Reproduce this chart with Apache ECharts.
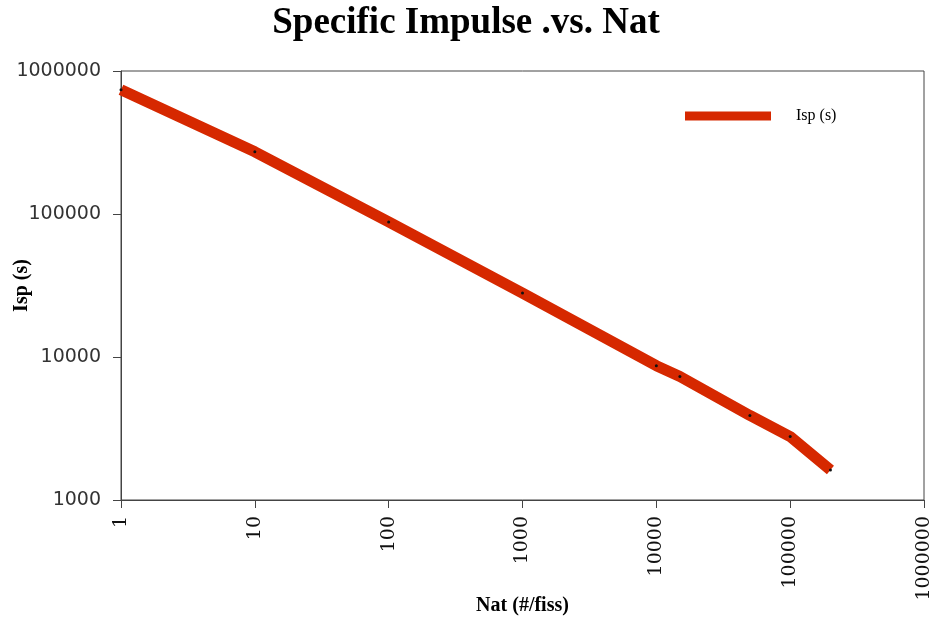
<!DOCTYPE html>
<html><head><meta charset="utf-8">
<script src="https://cdn.jsdelivr.net/npm/echarts@6/dist/echarts.min.js"></script>
<style>html,body{margin:0;padding:0;background:#fff}#c{width:932px;height:621px}</style>
</head><body><div id="c"></div>
<script>
const natValues = [1, 10, 100, 1000, 10000, 15000, 50000, 100000, 200000];
const ispValues = [740000, 272000, 88000, 28000, 8700, 7300, 3900, 2780, 1620];
const seriesName = 'Isp (s)';

const chart = echarts.init(document.getElementById('c'));
chart.setOption({
  animation: false,
  backgroundColor: '#fff',
  title: {
    text: 'Specific Impulse .vs. Nat', left: 'center', top: 0,
    textStyle: {fontFamily: 'Liberation Serif', fontWeight: 'bold', fontSize: 37, color: '#000'}
  },
  grid: {left: 121, right: 8, top: 71, bottom: 121, show: true, borderColor: '#444', borderWidth: 1,
         containLabel: false, outerBoundsMode: 'none'},
  legend: {
    left: 680, top: 103, itemWidth: 86, itemHeight: 9, itemGap: 10,
    icon: 'rect',
    data: [{name: seriesName, icon: 'rect', itemStyle: {color: '#d62800'}}],
    textStyle: {fontFamily: 'Liberation Serif', fontSize: 16, color: '#000', padding: [0,0,0,20]}
  },
  xAxis: {
    type: 'log', logBase: 10, min: 1, max: 1000000,
    name: 'Nat (#/fiss)', nameLocation: 'middle', nameGap: 96, nameMoveOverlap: false,
    nameTextStyle: {fontFamily: 'Liberation Serif', fontWeight: 'bold', fontSize: 20, color: '#000'},
    axisLine: {lineStyle: {color: '#444'}},
    axisTick: {show: true, inside: false, length: 8, lineStyle: {color: '#444'}},
    axisLabel: {rotate: 90, margin: 16, fontFamily: 'DejaVu Serif', fontSize: 19, color: '#111',
                formatter: v => String(Math.round(v))},
    splitLine: {show: false}, minorTick: {show: false}
  },
  yAxis: {
    type: 'log', logBase: 10, min: 1000, max: 1000000,
    name: 'Isp (s)', nameLocation: 'middle', nameGap: 89, nameRotate: 90, nameMoveOverlap: false,
    nameTextStyle: {fontFamily: 'Liberation Serif', fontWeight: 'bold', fontSize: 20, color: '#000'},
    axisLine: {show: true, lineStyle: {color: '#444'}},
    axisTick: {show: true, inside: false, length: 8, lineStyle: {color: '#444'}},
    axisLabel: {margin: 20, fontFamily: 'DejaVu Sans', fontSize: 19, color: '#333',
                formatter: v => String(Math.round(v))},
    splitLine: {show: false}
  },
  series: [{
    name: seriesName, type: 'line',
    data: natValues.map((x, i) => [x, ispValues[i]]),
    lineStyle: {color: '#d62800', width: 11},
    itemStyle: {color: '#111'},
    symbol: 'circle', symbolSize: 3, showSymbol: true,
    color: '#d62800'
  }]
});
</script></body></html>
